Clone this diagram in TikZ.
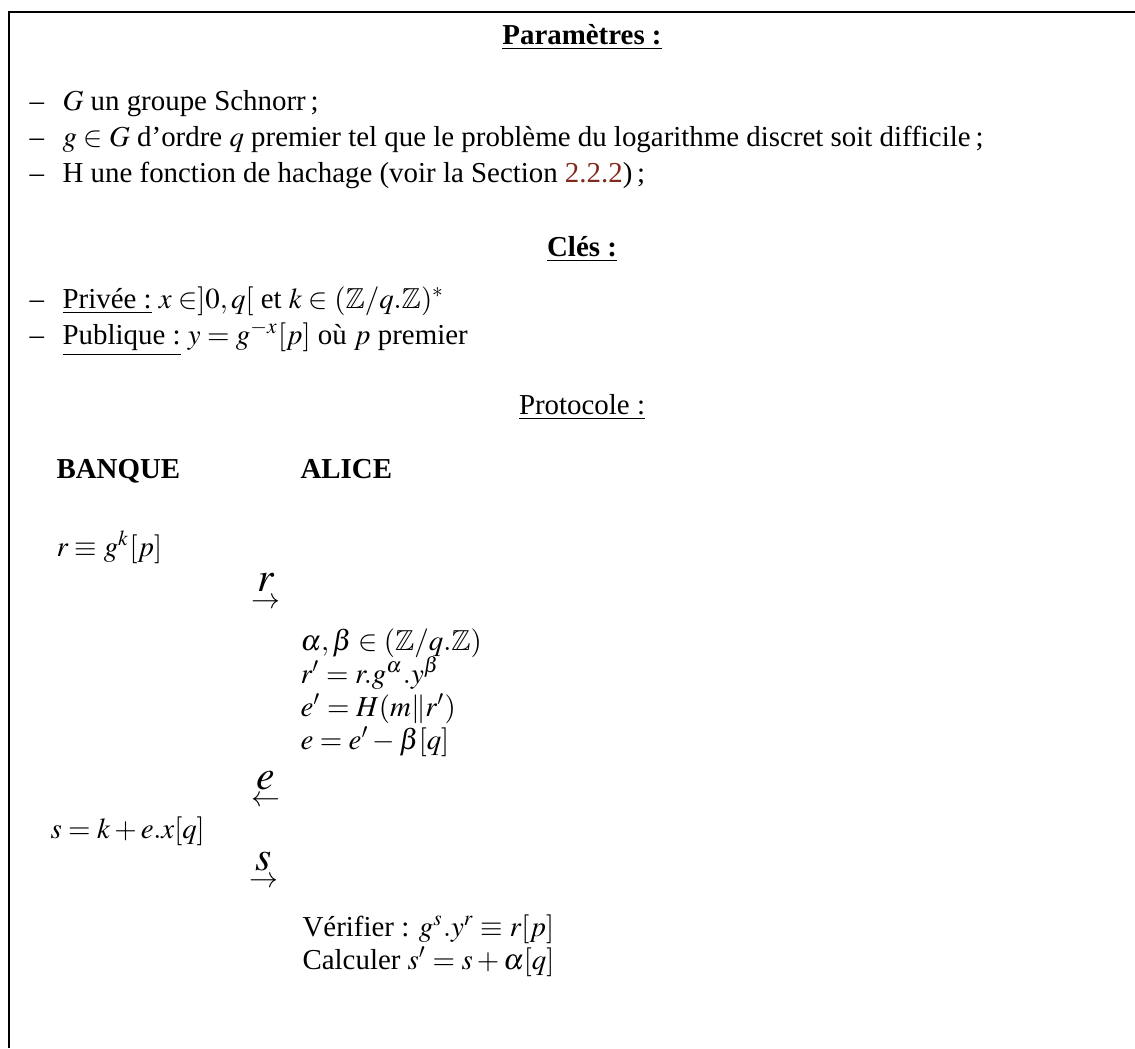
\documentclass[tikz,border=0pt]{standalone}
\usepackage{amsmath,amssymb}
\usepackage{mathptmx}
\usepackage[no-math]{fontspec}
\setmainfont{Liberation Serif}
\usetikzlibrary{positioning}
\definecolor{LinkRed}{HTML}{7F2A1B}
\tikzset{
  titre/.style={anchor=base, inner sep=0pt},
  tiret/.style={anchor=base west, inner sep=0pt},
  ligne/.style={anchor=base west, inner sep=0pt},
  envoi/.style={anchor=base, inner sep=0pt},
}
\newcommand{\envoiDe}[2]{$\overset{\mbox{\Large$#1$}}{#2}$}

\begin{document}
\begin{tikzpicture}[x=0.346pt,y=-0.346pt]
  \useasboundingbox (0,0) rectangle (1135,1048);
  \coordinate (cadreTR) at (1135,12);
  \coordinate (cadreTL) at (9,12);
  \coordinate (cadreBL) at (9,1048);
  \draw[line width=0.45pt] (cadreTR) -- (cadreTL) -- (cadreBL);

  % parametres
  \node[titre] (Tpar) at (582,44) {\underline{\textbf{Paramètres :}}};
  \node[tiret] (d1) at (29,110) {--};
  \node[ligne] (P1) at (62,110) {$G$ un groupe Schnorr\,;};
  \node[tiret] (d2) at (29,146) {--};
  \node[ligne] (P2) at (62,146) {$g \in G$ d'ordre $q$ premier tel que le problème du logarithme discret soit difficile\,;};
  \node[tiret] (d3) at (29,182) {--};
  \node[ligne] (P3) at (62,182) {H une fonction de hachage (voir la Section \textcolor{LinkRed}{2.2.2})\,;};

  % cles
  \node[titre] (Tcle) at (582,256) {\underline{\textbf{Clés :}}};
  \node[tiret] (d4) at (29,308) {--};
  \node[ligne] (K1) at (62,308) {\underline{Privée :} $x \in ]0,q[$ et $k \in (\mathbb{Z}/q.\mathbb{Z})^{*}$};
  \node[tiret] (d5) at (29,344) {--};
  \node[ligne] (K2) at (62,344) {\underline{Publique :} $y = g^{-x}[p]$ où $p$ premier};

  % protocole
  \node[titre] (Tpro) at (582,414) {\underline{Protocole :}};
  \node[ligne, font=\bfseries] (banque) at (56,478) {BANQUE};
  \node[ligne, font=\bfseries] (alice) at (300,478) {ALICE};

  \node[ligne] (B1) at (56,556) {$r \equiv g^{k}[p]$};
  \node[envoi] (f1) at (266,608) {\envoiDe{r}{\rightarrow}};

  \node[ligne] (A1) at (300,650) {$\alpha,\beta \in (\mathbb{Z}/q.\mathbb{Z})$};
  \node[ligne] (A2) at (300,683) {$r' = r.g^{\alpha}.y^{\beta}$};
  \node[ligne] (A3) at (300,716) {$e' = H(m\|r')$};
  \node[ligne] (A4) at (300,749) {$e = e' - \beta[q]$};
  \node[envoi] (f2) at (266,806) {\envoiDe{e}{\leftarrow}};

  \node[ligne] (B2) at (50,838) {$s = k + e.x[q]$};
  \node[envoi] (f3) at (264,887) {\envoiDe{s}{\rightarrow}};

  \node[ligne] (A5) at (302,936) {Vérifier : $g^{s}.y^{r} \equiv r[p]$};
  \node[ligne] (A6) at (302,969) {Calculer $s' = s + \alpha[q]$};
\end{tikzpicture}
\end{document}
